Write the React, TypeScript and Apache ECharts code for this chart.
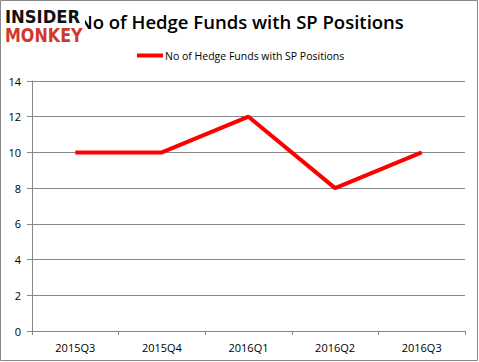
import React, { useEffect, useRef } from "react";
import * as echarts from "echarts";

const categories = ["2015Q3", "2015Q4", "2016Q1", "2016Q2", "2016Q3"];
const hedgeFunds = [10, 10, 12, 8, 10];
const seriesName = "No of Hedge Funds with SP Positions";
const titleText = "No of Hedge Funds with SP Positions";

export default function App() {
  const ref = useRef<HTMLDivElement>(null);
  useEffect(() => {
    document.body.style.margin = "0";
    const chart = echarts.init(ref.current!, null, { renderer: "svg" });
    chart.setOption({
      animation: false,
      backgroundColor: "#ffffff",
      title: {
        text: titleText,
        left: 236,
        textAlign: "center",
        top: 7,
        textStyle: { fontFamily: "Open Sans", fontWeight: 600, fontSize: 18.5, color: "#000" },
      },
      legend: {
        top: 50,
        left: 137,
        padding: 0,
        itemWidth: 26,
        itemHeight: 4,
        itemGap: 2,
        icon: "rect",
        textStyle: { fontFamily: "Open Sans", fontSize: 10.5, color: "#000", padding: [0, 0, 0, -3] },
        data: [seriesName],
      },
      grid: { left: 32, right: 14, top: 81, bottom: 31, containLabel: false },
      xAxis: {
        type: "category",
        data: categories,
        boundaryGap: true,
        axisLine: { lineStyle: { color: "#888", width: 1 } },
        axisTick: { show: true, length: 4, inside: false, alignWithLabel: false, lineStyle: { color: "#888" } },
        axisLabel: { fontFamily: "Open Sans", fontSize: 11, color: "#000", margin: 11 },
      },
      yAxis: {
        type: "value",
        min: 0,
        max: 14,
        interval: 2,
        axisLine: { show: true, lineStyle: { color: "#888", width: 1 } },
        axisTick: { show: true, length: 5, lineStyle: { color: "#888" } },
        axisLabel: { fontFamily: "Open Sans", fontSize: 11, color: "#000", margin: 11 },
        splitLine: { show: true, lineStyle: { color: "#888", width: 1 } },
      },
      series: [
        {
          name: seriesName,
          type: "line",
          data: hedgeFunds,
          symbol: "none",
          color: "#ff0000",
          lineStyle: { color: "#ff0000", width: 4 },
        },
      ],
      graphic: [
        {
          type: "rect",
          shape: { x: 0.5, y: 0.5, width: 477, height: 360 },
          style: { fill: "none", stroke: "#888", lineWidth: 1 },
          silent: true,
          z: 100,
        },
        {
          type: "rect",
          shape: { x: 3, y: 8, width: 82, height: 38 },
          style: { fill: "#ffffff" },
          z: 101,
        },
        {
          type: "text",
          x: 5,
          y: 8,
          style: {
            text: "INSIDER",
            fontFamily: "DejaVu Sans",
            fontWeight: "bold",
            fontSize: 18,
            fill: "#111",
          },
          scaleX: 0.91,
          z: 102,
        },
        {
          type: "text",
          x: 5,
          y: 26,
          style: {
            text: "MONKEY",
            fontFamily: "DejaVu Sans",
            fontWeight: "bold",
            fontSize: 19,
            fill: "#d0392b",
          },
          scaleX: 0.84,
          z: 102,
        },
      ],
    });
    return () => chart.dispose();
  }, []);
  return <div ref={ref} style={{ width: 479, height: 362 }} />;
}
